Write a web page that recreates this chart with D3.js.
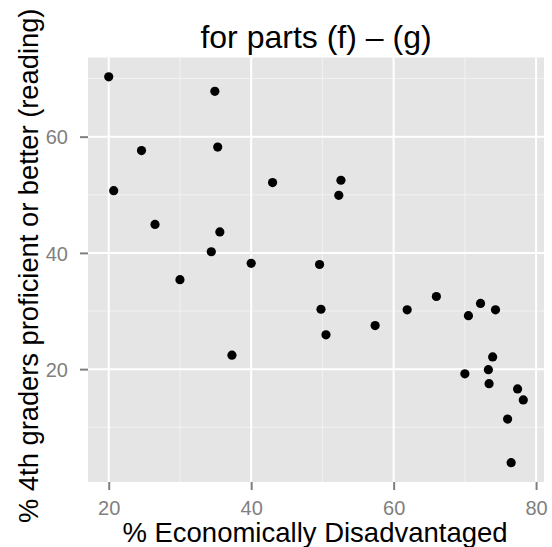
<!DOCTYPE html>
<html>
<head>
<meta charset="utf-8">
<script src="https://cdn.jsdelivr.net/npm/d3@7"></script>
<style>
  html, body { margin: 0; padding: 0; background: #ffffff; }
  svg { display: block; }
</style>
</head>
<body>
<svg id="chart" width="552" height="547"></svg>
<script>
const econDisadv = [20.0, 34.9, 24.6, 35.3, 20.7, 43.0, 26.5, 35.6, 34.4, 40.0, 49.6, 52.6, 52.3,
  30.0, 37.3, 49.8, 50.5, 57.4, 61.9, 66.0, 70.5, 72.2, 74.3, 73.9, 73.3, 70.0, 73.4, 77.4, 78.2, 76.0, 76.5];
const readingProficient = [70.3, 67.8, 57.6, 58.2, 50.7, 52.1, 44.9, 43.6, 40.2, 38.2, 38.0, 52.5, 49.9,
  35.4, 22.4, 30.3, 25.9, 27.5, 30.2, 32.5, 29.2, 31.3, 30.2, 22.1, 19.9, 19.2, 17.5, 16.6, 14.7, 11.4, 3.9];
const xTicks = [20, 40, 60, 80];
const xMinor = [30, 50, 70];
const yTicks = [20, 40, 60];
const yMinor = [10, 30, 50, 70];
const titleText = "for parts (f) \u2013 (g)";
const xTitle = "% Economically Disadvantaged";
const yTitle = "% 4th graders proficient or better (reading)";

const svg = d3.select("#chart");
const font = "'Liberation Sans', Arial, Helvetica, sans-serif";
const panel = { left: 88, right: 544, top: 57.5, bottom: 482 };

function expanded(arr) {
  const [lo, hi] = d3.extent(arr);
  const pad = (hi - lo) * 0.05;
  return [lo - pad, hi + pad];
}

const x = d3.scaleLinear().domain(expanded(econDisadv)).range([panel.left, panel.right]);
const y = d3.scaleLinear().domain(expanded(readingProficient)).range([panel.bottom, panel.top]);

svg.append("rect").attr("x", 0).attr("y", 0).attr("width", 552).attr("height", 547).attr("fill", "#ffffff");

// panel
svg.append("rect")
  .attr("x", panel.left).attr("y", panel.top)
  .attr("width", panel.right - panel.left).attr("height", panel.bottom - panel.top)
  .attr("fill", "#E5E5E5");

const grid = svg.append("g");
// minor grid
grid.selectAll(".vminor").data(xMinor).enter().append("line")
  .attr("x1", d => x(d)).attr("x2", d => x(d))
  .attr("y1", panel.top).attr("y2", panel.bottom)
  .attr("stroke", "#F2F2F2").attr("stroke-width", 1);
grid.selectAll(".hminor").data(yMinor).enter().append("line")
  .attr("y1", d => y(d)).attr("y2", d => y(d))
  .attr("x1", panel.left).attr("x2", panel.right)
  .attr("stroke", "#F2F2F2").attr("stroke-width", 1);
// major grid
grid.selectAll(".vmajor").data(xTicks).enter().append("line")
  .attr("x1", d => x(d)).attr("x2", d => x(d))
  .attr("y1", panel.top).attr("y2", panel.bottom)
  .attr("stroke", "#FFFFFF").attr("stroke-width", 2);
grid.selectAll(".hmajor").data(yTicks).enter().append("line")
  .attr("y1", d => y(d)).attr("y2", d => y(d))
  .attr("x1", panel.left).attr("x2", panel.right)
  .attr("stroke", "#FFFFFF").attr("stroke-width", 2);

// axes
const xAxis = d3.axisBottom(x).tickValues(xTicks).tickSize(8).tickPadding(4).tickFormat(d3.format("d"));
const gx = svg.append("g").attr("transform", `translate(0,${panel.bottom})`).call(xAxis);
gx.select(".domain").remove();
gx.selectAll(".tick line").attr("stroke", "#7F7F7F").attr("stroke-width", 2);
gx.selectAll(".tick text").attr("fill", "#7F7F7F").attr("font-family", font).attr("font-size", 20)
  .attr("dy", null).attr("y", 33);

const yAxis = d3.axisLeft(y).tickValues(yTicks).tickSize(8).tickPadding(4).tickFormat(d3.format("d"));
const gy = svg.append("g").attr("transform", `translate(${panel.left},0)`).call(yAxis);
gy.select(".domain").remove();
gy.selectAll(".tick line").attr("stroke", "#7F7F7F").attr("stroke-width", 2);
gy.selectAll(".tick text").attr("fill", "#7F7F7F").attr("font-family", font).attr("font-size", 20)
  .attr("x", -20).attr("dy", "0.36em");

// points
svg.append("g").selectAll("circle")
  .data(econDisadv.map((d, i) => [d, readingProficient[i]]))
  .enter().append("circle")
  .attr("cx", d => x(d[0])).attr("cy", d => y(d[1]))
  .attr("r", 4.6).attr("fill", "#000000");

// titles
svg.append("text").attr("x", (panel.left + panel.right) / 2).attr("y", 48)
  .attr("text-anchor", "middle").attr("font-family", font).attr("font-size", 32)
  .attr("fill", "#000").text(titleText);

svg.append("text").attr("x", (panel.left + panel.right) / 2 - 1).attr("y", 542)
  .attr("text-anchor", "middle").attr("font-family", font).attr("font-size", 27.5)
  .attr("fill", "#000").text(xTitle);

svg.append("text")
  .attr("transform", `translate(38,${(panel.top + panel.bottom) / 2 - 4}) rotate(-90)`)
  .attr("text-anchor", "middle").attr("font-family", font).attr("font-size", 27.3)
  .attr("fill", "#000").text(yTitle);
</script>
</body>
</html>
